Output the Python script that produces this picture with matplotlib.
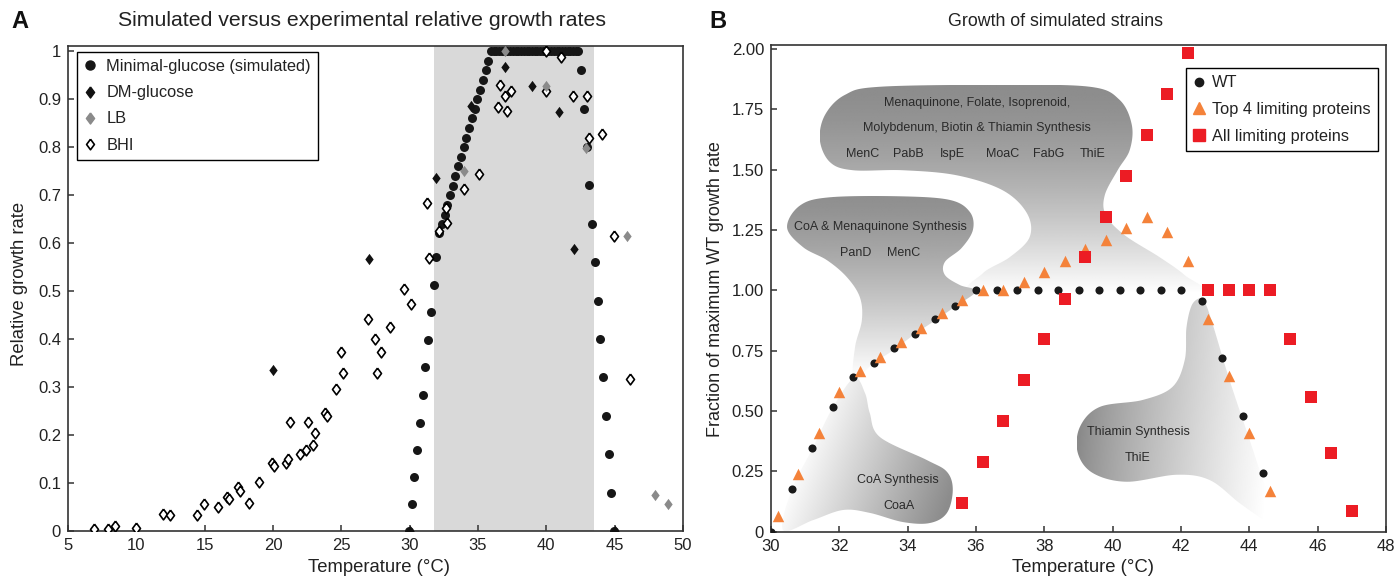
import numpy as np
import matplotlib
matplotlib.use("Agg")
import matplotlib.pyplot as plt
from matplotlib.path import Path
from matplotlib.patches import PathPatch
from matplotlib.lines import Line2D

plt.rcParams['font.family'] = ['Liberation Sans', 'DejaVu Sans']

# ---------------- Panel A data ----------------
sim_x = [29.95, 30.15, 30.35, 30.55, 30.75, 30.95, 31.15, 31.35, 31.55, 31.75,
         31.95, 32.15, 32.35, 32.55, 32.75, 32.95, 33.15, 33.35, 33.55, 33.75,
         33.95, 34.15, 34.35, 34.55, 34.75, 34.95, 35.15, 35.35, 35.55, 35.75,
         35.95, 36.15, 36.35, 36.55, 36.75, 36.95, 37.15, 37.35, 37.55, 37.75,
         37.95, 38.15, 38.35, 38.55, 38.75, 38.95, 39.15, 39.35, 39.55, 39.75,
         39.95, 40.15, 40.35, 40.55, 40.75, 40.95, 41.15, 41.35, 41.55, 41.75,
         41.95, 42.15, 42.35, 42.55, 42.75, 42.95, 43.15, 43.35, 43.55, 43.75,
         43.95, 44.15, 44.35, 44.55, 44.75, 44.95]
sim_y = [0.0, 0.056, 0.112, 0.169, 0.226, 0.284, 0.341, 0.398, 0.456, 0.513,
         0.570, 0.620, 0.640, 0.659, 0.680, 0.700, 0.719, 0.740, 0.760, 0.780,
         0.799, 0.819, 0.840, 0.860, 0.880, 0.900, 0.919, 0.940, 0.960, 0.980,
         1.0, 1.0, 1.0, 1.0, 1.0, 1.0, 1.0, 1.0, 1.0, 1.0,
         1.0, 1.0, 1.0, 1.0, 1.0, 1.0, 1.0, 1.0, 1.0, 1.0,
         1.0, 1.0, 1.0, 1.0, 1.0, 1.0, 1.0, 1.0, 1.0, 1.0,
         1.0, 1.0, 1.0, 0.96, 0.88, 0.80, 0.72, 0.64, 0.56, 0.48,
         0.40, 0.32, 0.24, 0.16, 0.08, 0.0]

dm_x = [20.0, 27.0, 30.0, 31.95, 34.5, 36.97, 38.97, 40.96, 41.99, 45.0]
dm_y = [0.335, 0.567, 0.0, 0.735, 0.885, 0.966, 0.928, 0.872, 0.587, 0.0]

lb_x = [33.95, 36.94, 39.94, 42.9, 45.9, 47.93, 48.93]
lb_y = [0.75, 1.0, 0.928, 0.797, 0.615, 0.075, 0.056]

bhi_x = [6.92, 7.95, 8.43, 9.97, 11.97, 12.45, 14.43, 14.94, 15.94, 16.65,
         16.77, 17.45, 17.57, 18.25, 18.94, 19.94, 20.06, 20.94, 21.08, 21.23,
         21.94, 22.45, 22.59, 22.93, 23.1, 23.79, 23.93, 24.59, 24.95, 25.1,
         26.95, 27.44, 27.61, 27.93, 28.59, 29.59, 30.1, 31.26, 31.41, 32.14,
         32.63, 32.75, 33.95, 35.07, 36.45, 36.62, 36.94, 37.11, 37.43, 39.94,
         40.0, 41.09, 41.94, 42.94, 43.1, 44.09, 44.96, 46.1]
bhi_y = [0.005, 0.005, 0.01, 0.007, 0.035, 0.033, 0.033, 0.056, 0.049, 0.071,
         0.067, 0.092, 0.084, 0.059, 0.103, 0.141, 0.136, 0.141, 0.149, 0.228,
         0.16, 0.169, 0.228, 0.179, 0.205, 0.246, 0.24, 0.295, 0.372, 0.329,
         0.441, 0.401, 0.329, 0.372, 0.424, 0.505, 0.473, 0.683, 0.568, 0.624,
         0.672, 0.642, 0.712, 0.743, 0.884, 0.929, 0.906, 0.874, 0.917, 0.917,
         1.0, 0.988, 0.906, 0.906, 0.818, 0.828, 0.615, 0.316]

optimal_range = [31.75, 43.5]

a_xticks = [5, 10, 15, 20, 25, 30, 35, 40, 45, 50]
a_yticks = [0, 0.1, 0.2, 0.3, 0.4, 0.5, 0.6, 0.7, 0.8, 0.9, 1.0]
a_ylabels = ['0', '0.1', '0.2', '0.3', '0.4', '0.5', '0.6', '0.7', '0.8', '0.9', '1']

# ---------------- Panel B data ----------------
wt_x = [30.0, 30.6, 31.2, 31.8, 32.4, 33.0, 33.6, 34.2, 34.8, 35.4, 36.0, 36.6,
        37.2, 37.8, 38.4, 39.0, 39.6, 40.2, 40.8, 41.4, 42.0, 42.6, 43.2, 43.8, 44.4]
wt_y = [0.0, 0.175, 0.345, 0.515, 0.64, 0.70, 0.76, 0.82, 0.88, 0.935, 1.0, 1.0,
        1.0, 1.0, 1.0, 1.0, 1.0, 1.0, 1.0, 1.0, 1.0, 0.955, 0.72, 0.48, 0.245]
top4_x = [30.2, 30.8, 31.4, 32.0, 32.6, 33.2, 33.8, 34.4, 35.0, 35.6, 36.2, 36.8,
          37.4, 38.0, 38.6, 39.2, 39.8, 40.4, 41.0, 41.6, 42.2, 42.8, 43.4, 44.0, 44.6]
top4_y = [0.065, 0.24, 0.41, 0.58, 0.665, 0.725, 0.785, 0.845, 0.905, 0.96, 1.0, 1.0,
          1.035, 1.075, 1.12, 1.17, 1.21, 1.26, 1.305, 1.24, 1.12, 0.88, 0.645, 0.41, 0.17]
all_x = [35.6, 36.2, 36.8, 37.4, 38.0, 38.6, 39.2, 39.8, 40.4, 41.0, 41.6, 42.2,
         42.8, 43.4, 44.0, 44.6, 45.2, 45.8, 46.4, 47.0]
all_y = [0.12, 0.29, 0.46, 0.63, 0.80, 0.965, 1.14, 1.305, 1.475, 1.645, 1.815, 1.985,
         1.0, 1.0, 1.0, 1.0, 0.80, 0.56, 0.325, 0.085]

b_xticks = [30, 32, 34, 36, 38, 40, 42, 44, 46, 48]
b_yticks = [0, 0.25, 0.5, 0.75, 1.0, 1.25, 1.5, 1.75, 2.0]
b_ylabels = ['0', '0.25', '0.50', '0.75', '1.00', '1.25', '1.50', '1.75', '2.00']

# annotation blobs (outline in data coords of panel B)
blob_main = [(31.43, 1.623), (31.58, 1.727), (32.16, 1.810), (33.19, 1.844), (36.70, 1.852),
             (39.33, 1.844), (40.20, 1.790), (40.56, 1.686), (40.50, 1.582), (40.15, 1.499),
             (39.77, 1.395), (39.80, 1.312), (40.35, 1.229), (41.37, 1.138), (42.11, 1.063),
             (42.55, 0.99), (39.5, 0.985), (35.96, 0.99), (36.20, 1.071), (36.99, 1.138),
             (37.57, 1.221), (37.49, 1.320), (36.78, 1.415), (35.44, 1.477), (33.86, 1.498),
             (32.40, 1.498), (31.73, 1.531)]
blob_coa_men = [(30.47, 1.261), (30.85, 1.352), (31.73, 1.386), (33.77, 1.390), (35.23, 1.375),
                (35.82, 1.325), (35.91, 1.251), (35.58, 1.176), (35.09, 1.118), (35.09, 1.064),
                (35.53, 1.022), (36.0, 0.997), (35.41, 0.935), (34.82, 0.877), (34.21, 0.819),
                (33.63, 0.757), (33.01, 0.699), (32.43, 0.637), (32.46, 0.765), (32.66, 0.877),
                (32.60, 0.972), (32.22, 1.055), (31.64, 1.125), (30.94, 1.179)]
blob_coa = [(32.43, 0.637), (32.75, 0.575), (32.89, 0.492), (33.19, 0.392), (34.56, 0.297),
            (35.15, 0.248), (35.32, 0.174), (35.15, 0.078), (34.65, 0.036), (33.86, 0.040),
            (32.89, 0.078), (32.11, 0.090), (31.23, 0.048), (30.35, 0.007), (30.61, 0.175),
            (31.20, 0.341), (31.81, 0.515)]
blob_thi = [(42.54, 0.967), (42.31, 0.937), (42.16, 0.846), (42.11, 0.712), (41.75, 0.600),
            (40.88, 0.546), (39.62, 0.517), (39.04, 0.434), (38.98, 0.326), (39.42, 0.243),
            (40.41, 0.207), (41.87, 0.236), (42.84, 0.214), (43.71, 0.119), (44.44, 0.048),
            (44.88, 0.019), (44.59, 0.131), (44.01, 0.380), (43.42, 0.629), (42.89, 0.877),
            (42.69, 0.952)]


def smooth_closed(pts, n=16):
    P = np.asarray(pts, float)
    N = len(P)
    out = []
    for i in range(N):
        p0, p1, p2, p3 = P[i - 1], P[i], P[(i + 1) % N], P[(i + 2) % N]
        for t in np.linspace(0, 1, n, endpoint=False):
            t2, t3 = t * t, t * t * t
            out.append(0.5 * (2 * p1 + (-p0 + p2) * t + (2 * p0 - 5 * p1 + 4 * p2 - p3) * t2
                              + (-p0 + 3 * p1 - 3 * p2 + p3) * t3))
    out.append(out[0])
    return np.array(out)


def gradient_blob(ax, verts, p_dark, p_light, g_dark, g_light, gamma=1.0):
    pts = smooth_closed(verts)
    codes = [Path.MOVETO] + [Path.LINETO] * (len(pts) - 2) + [Path.CLOSEPOLY]
    patch = PathPatch(Path(pts, codes), fc='none', ec='none', transform=ax.transData)
    ax.add_patch(patch)
    xmin, ymin = pts.min(axis=0)
    xmax, ymax = pts.max(axis=0)
    nx, ny = 300, 300
    X, Y = np.meshgrid(np.linspace(xmin, xmax, nx), np.linspace(ymin, ymax, ny))
    D = ax.transData.transform(np.c_[X.ravel(), Y.ravel()])
    P0 = ax.transData.transform(p_dark)
    P1 = ax.transData.transform(p_light)
    d = P1 - P0
    t = np.clip(((D - P0) @ d) / (d @ d), 0, 1) ** gamma
    G = (g_dark + (g_light - g_dark) * t).reshape(ny, nx)
    im = ax.imshow(G, extent=(xmin, xmax, ymin, ymax), origin='lower', cmap='gray',
                   vmin=0, vmax=1, aspect='auto', interpolation='bilinear', zorder=1)
    im.set_clip_path(patch)


W, H = 1398, 576
fig = plt.figure(figsize=(W / 100, H / 100), dpi=100)

spine_c = '#333333'
tick_fs = 12
text_c = '#222222'

# diamond marker a bit wider than matplotlib's thin diamond
diamond = [(0, 1), (0.74, 0), (0, -1), (-0.74, 0), (0, 1)]

# ================= Panel A =================
axA = fig.add_axes([68 / W, (H - 531) / H, 615 / W, 485 / H])
axA.set_xlim(5, 50)
axA.set_ylim(0, 1.0104)
axA.axvspan(optimal_range[0], optimal_range[1], color='#d9d9d9', lw=0, zorder=0)
axA.scatter(sim_x, sim_y, s=42, marker='o', color='#161616', lw=0, zorder=3)
axA.scatter(bhi_x, bhi_y, s=60, marker=diamond, facecolor='white', edgecolor='black', lw=1.2, zorder=4)
axA.scatter(dm_x, dm_y, s=66, marker=diamond, color='#111111', lw=0, zorder=4)
axA.scatter(lb_x, lb_y, s=66, marker=diamond, color='#8a8a8a', lw=0, zorder=5)
axA.set_xticks(a_xticks)
axA.set_yticks(a_yticks)
axA.set_yticklabels(a_ylabels)

hA = [Line2D([], [], ls='none', marker='o', color='#161616', ms=6.5),
      Line2D([], [], ls='none', marker=diamond, color='#111111', ms=8),
      Line2D([], [], ls='none', marker=diamond, color='#8a8a8a', ms=8),
      Line2D([], [], ls='none', marker=diamond, mfc='white', mec='black', mew=1.2, ms=7.6)]
legA = axA.legend(hA, ['Minimal-glucose (simulated)', 'DM-glucose', 'LB', 'BHI'],
                  loc='upper left', bbox_to_anchor=(0.0151, 0.988), borderaxespad=0,
                  fontsize=11.8, frameon=True, fancybox=False, framealpha=1,
                  edgecolor='black', handlelength=0.7, handletextpad=0.62,
                  borderpad=0.45, labelspacing=0.68)
legA.get_frame().set_linewidth(1.0)
for t in legA.get_texts():
    t.set_color(text_c)

# ================= Panel B =================
axB = fig.add_axes([771 / W, (H - 531.7) / H, 615 / W, 486.7 / H])
axB.set_xlim(30, 48)
axB.set_ylim(0, 2.017)

gradient_blob(axB, blob_main, (36.7, 1.85), (36.7, 0.99), 0.55, 1.0, 1.5)
gradient_blob(axB, blob_coa_men, (33.0, 1.39), (33.0, 0.64), 0.56, 1.0, 1.3)
gradient_blob(axB, blob_coa, (35.3, 0.17), (31.0, 0.40), 0.55, 1.0, 1.0)
gradient_blob(axB, blob_thi, (39.0, 0.38), (44.6, 0.30), 0.54, 1.0, 0.85)

txt_kw = dict(fontsize=9.0, color='#2a2a2a', ha='center', va='center', zorder=2)
axB.text(36.02, 1.775, 'Menaquinone, Folate, Isoprenoid,', **txt_kw)
axB.text(36.04, 1.674, 'Molybdenum, Biotin & Thiamin Synthesis', **txt_kw)
for name, xx in zip(['MenC', 'PabB', 'IspE', 'MoaC', 'FabG', 'ThiE'],
                    [32.69, 34.03, 35.31, 36.79, 38.13, 39.42]):
    axB.text(xx, 1.564, name, **txt_kw)
axB.text(33.19, 1.264, 'CoA & Menaquinone Synthesis', **txt_kw)
axB.text(32.49, 1.156, 'PanD', **txt_kw)
axB.text(33.87, 1.156, 'MenC', **txt_kw)
axB.text(33.72, 0.214, 'CoA Synthesis', **txt_kw)
axB.text(33.75, 0.107, 'CoaA', **txt_kw)
axB.text(40.74, 0.414, 'Thiamin Synthesis', **txt_kw)
axB.text(40.74, 0.307, 'ThiE', **txt_kw)

orange = '#f4823a'
red = '#ec1c24'
axB.scatter(wt_x, wt_y, s=34, marker='o', color='#1a1a1a', lw=0, zorder=3)
axB.scatter(top4_x, top4_y, s=68, marker='^', color=orange, lw=0, zorder=4)
axB.scatter(all_x, all_y, s=80, marker='s', color=red, lw=0, zorder=5)
axB.set_xticks(b_xticks)
axB.set_yticks(b_yticks)
axB.set_yticklabels(b_ylabels)

hB = [Line2D([], [], ls='none', marker='o', color='#1a1a1a', ms=6),
      Line2D([], [], ls='none', marker='^', color=orange, ms=8.5),
      Line2D([], [], ls='none', marker='s', color=red, ms=8.5)]
legB = axB.legend(hB, ['WT', 'Top 4 limiting proteins', 'All limiting proteins'],
                  loc='upper right', bbox_to_anchor=(0.987, 0.953), borderaxespad=0,
                  fontsize=11.8, frameon=True, fancybox=False, framealpha=1,
                  edgecolor='black', handlelength=0.7, handletextpad=0.45,
                  borderpad=0.45, labelspacing=0.72)
legB.get_frame().set_linewidth(1.0)
for t in legB.get_texts():
    t.set_color(text_c)

for ax in (axA, axB):
    for sp in ax.spines.values():
        sp.set_color(spine_c)
        sp.set_linewidth(1.2)
    ax.tick_params(direction='in', length=4, width=1.1, color=spine_c,
                   labelsize=tick_fs, pad=5, labelcolor=text_c)

# labels and titles (figure pixel positions)
def fx(px):
    return px / W

def fy(py):
    return 1 - py / H

fig.text(fx(379), fy(568), 'Temperature (°C)', ha='center', va='center', fontsize=13.3, color=text_c)
fig.text(fx(1083), fy(568), 'Temperature (°C)', ha='center', va='center', fontsize=13.3, color=text_c)
fig.text(fx(20), fy(284), 'Relative growth rate', ha='center', va='center', rotation=90,
         fontsize=13.3, color=text_c)
fig.text(fx(716), fy(289), 'Fraction of maximum WT growth rate', ha='center', va='center',
         rotation=90, fontsize=13.0, color=text_c)
fig.text(fx(362), fy(21), 'Simulated versus experimental relative growth rates', ha='center',
         va='center', fontsize=15.3, color=text_c)
fig.text(fx(1055), fy(21), 'Growth of simulated strains', ha='center', va='center',
         fontsize=12.8, color=text_c)
fig.text(fx(20), fy(21), 'A', ha='center', va='center', fontsize=17, fontweight='bold', color='#111111')
fig.text(fx(718), fy(21), 'B', ha='center', va='center', fontsize=17, fontweight='bold', color='#111111')

fig.savefig('out.png', dpi=100)
